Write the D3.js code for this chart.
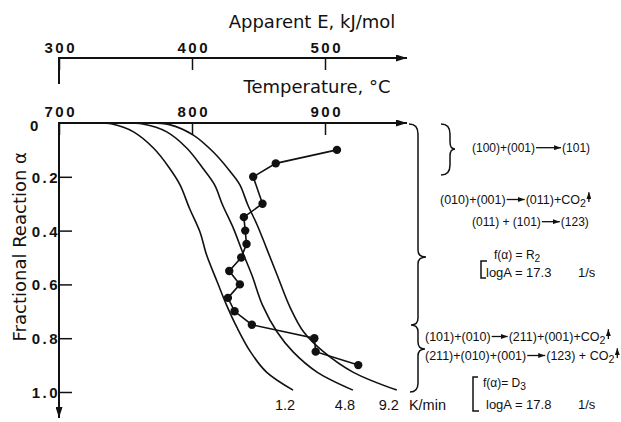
<!DOCTYPE html>
<html>
<head>
<meta charset="utf-8">
<script src="https://cdn.jsdelivr.net/npm/d3@7"></script>
<style>
  body { margin: 0; background: #fff; }
  svg { display: block; }
  .tick text { font-family: "Liberation Sans", Arial, sans-serif;
               font-weight: bold; font-size: 15px; letter-spacing: 2.5px; fill: #111; }
  .tick line { stroke: #111; stroke-width: 1.5; }
  .title { font-family: "DejaVu Sans", sans-serif; font-size: 18px; fill: #111; }
  .note text { font-family: "Liberation Sans", Arial, sans-serif; font-size: 12px; fill: #111; }
  .frame { stroke: #111; stroke-width: 2; fill: none; }
</style>
</head>
<body>
<svg id="chart" width="621" height="422"></svg>
<script>
// --- DATA ---
const eTicks = [300, 400, 500];
const tTicks = [700, 800, 900];
const alphaTicks = [0.2, 0.4, 0.6, 0.8, 1.0];

// conversion curves for each heating rate (temperature °C, fractional reaction)
const rates = ["1.2", "4.8", "9.2"];
const curve12T = [726, 740, 756, 771, 783, 791, 798, 806, 811, 819, 826, 834, 844, 856, 876];
const curve12A = [0, 0.004, 0.033, 0.093, 0.167, 0.23, 0.316, 0.405, 0.491, 0.591, 0.677, 0.762, 0.851, 0.926, 0.993];
const curve48T = [748, 763, 781, 796, 808, 817, 823, 831, 838, 845, 853, 864, 876, 894, 921];
const curve48A = [0, 0.004, 0.033, 0.093, 0.167, 0.23, 0.305, 0.39, 0.48, 0.565, 0.677, 0.777, 0.851, 0.926, 0.993];
const curve92T = [768, 783, 801, 816, 829, 836, 842, 849, 856, 864, 874, 884, 899, 921, 954];
const curve92A = [0, 0.006, 0.045, 0.108, 0.182, 0.23, 0.305, 0.379, 0.465, 0.565, 0.688, 0.777, 0.851, 0.926, 0.993];

// apparent activation energy vs alpha
const dotAlpha = [0.1, 0.15, 0.2, 0.3, 0.35, 0.4, 0.45, 0.5, 0.55, 0.6, 0.65, 0.7, 0.75, 0.8, 0.85, 0.9];
const dotE = [509, 463, 446, 453, 439, 440, 441, 437, 428, 436, 427, 432, 445, 492, 493, 525];

// --- SETUP ---
const svg = d3.select("#chart");
const axisEnd = 407;

const xE = d3.scaleLinear().domain([300, 500]).range([59, 325]);
const xT = d3.scaleLinear().domain([700, 900]).range([59, 325]);
const yA = d3.scaleLinear().domain([0, 1]).range([123, 392]);

const defs = svg.append("defs");
function addHead(id, len, wid) {
    defs.append("marker")
        .attr("id", id)
        .attr("markerUnits", "userSpaceOnUse")
        .attr("markerWidth", len).attr("markerHeight", wid)
        .attr("refX", len).attr("refY", wid / 2)
        .attr("orient", "auto")
        .append("path")
        .attr("d", `M0,0L${len},${wid / 2}L0,${wid}Z`)
        .attr("fill", "#111");
}
addHead("head", 11, 7);
addHead("small", 7, 5);

// --- AXES ---
const ls = 2.5; // letter spacing used on tick labels

const eAxis = svg.append("g")
    .attr("transform", `translate(0,${yA(0) - 65})`)
    .call(d3.axisTop(xE).tickValues(eTicks).tickSizeInner(-12).tickSizeOuter(0).tickPadding(5).tickFormat(d3.format("d")));
eAxis.select(".domain").remove();
eAxis.selectAll("text").attr("dx", ls / 2);
svg.append("line").attr("class", "frame")
    .attr("x1", xE(300)).attr("x2", axisEnd).attr("y1", yA(0) - 65).attr("y2", yA(0) - 65)
    .attr("marker-end", "url(#head)");
svg.append("line").attr("class", "frame")
    .attr("x1", xE(300)).attr("x2", xE(300)).attr("y1", yA(0) - 66).attr("y2", yA(0) - 39);

const tAxis = svg.append("g")
    .attr("transform", `translate(0,${yA(0)})`)
    .call(d3.axisTop(xT).tickValues(tTicks).tickSizeInner(-12).tickSizeOuter(0).tickPadding(6).tickFormat(d3.format("d")));
tAxis.select(".domain").remove();
tAxis.selectAll("text").attr("dx", ls / 2);
svg.append("line").attr("class", "frame")
    .attr("x1", xT(700)).attr("x2", axisEnd).attr("y1", yA(0)).attr("y2", yA(0))
    .attr("marker-end", "url(#head)");

const aAxis = svg.append("g")
    .attr("transform", `translate(${xT(700)},0)`)
    .call(d3.axisLeft(yA).tickValues(alphaTicks).tickSizeInner(-13).tickSizeOuter(0).tickFormat(d3.format(".1f")));
aAxis.select(".domain").remove();
aAxis.selectAll("text").attr("x", 1).attr("dy", "0.36em");
svg.append("line").attr("class", "frame")
    .attr("x1", xT(700)).attr("x2", xT(700)).attr("y1", yA(0) - 1).attr("y2", 418)
    .attr("marker-end", "url(#head)");
svg.append("g").attr("class", "tick").append("text")
    .attr("x", 30).attr("y", yA(0) + 8).text("0");

// titles
svg.append("text").attr("class", "title")
    .attr("x", 312).attr("y", 28).attr("text-anchor", "middle")
    .text("Apparent E, kJ/mol");
svg.append("text").attr("class", "title")
    .attr("x", 317).attr("y", 93).attr("text-anchor", "middle")
    .text("Temperature, °C");
svg.append("text").attr("class", "title")
    .attr("transform", `translate(26,${yA(0.46)}) rotate(-90)`)
    .attr("text-anchor", "middle")
    .text("Fractional Reaction α");

// --- CURVES ---
const curves = [
    d3.zip(curve12T, curve12A),
    d3.zip(curve48T, curve48A),
    d3.zip(curve92T, curve92A)
];
const curveLine = d3.line()
    .x(d => xT(d[0])).y(d => yA(d[1]))
    .curve(d3.curveCatmullRom.alpha(0.5));

svg.append("g").selectAll("path")
    .data(curves)
    .join("path")
    .attr("d", curveLine)
    .attr("fill", "none").attr("stroke", "#111").attr("stroke-width", 1.6);

const rateLabels = svg.append("g").attr("class", "note");
let lastEnd = 0;
curves.forEach((c, i) => {
    const end = c[c.length - 1];
    const t = rateLabels.append("text")
        .attr("x", xT(end[0]) - 8).attr("y", 410)
        .attr("text-anchor", "middle")
        .style("font-size", "14.5px")
        .text(rates[i]);
    const bb = t.node().getBBox();
    lastEnd = bb.x + bb.width;
});
rateLabels.append("text")
    .attr("x", lastEnd + 10).attr("y", 410)
    .style("font-size", "14.5px")
    .text("K/min");

// --- ACTIVATION ENERGY POINTS ---
const ePoints = d3.zip(dotE, dotAlpha);
svg.append("path")
    .datum(ePoints)
    .attr("d", d3.line().x(d => xE(d[0])).y(d => yA(d[1])))
    .attr("fill", "none").attr("stroke", "#111").attr("stroke-width", 1.6);
svg.append("g").selectAll("circle")
    .data(ePoints)
    .join("circle")
    .attr("cx", d => xE(d[0])).attr("cy", d => yA(d[1]))
    .attr("r", 4.2).attr("fill", "#111");

// --- REACTION NOTES ---
function eqRow(x, y, tokens, size) {
    const g = svg.append("g").attr("class", "note");
    const fs = size || 12;
    let cx = x;
    tokens.forEach(tok => {
        if (tok.arrow) {
            g.append("line")
                .attr("x1", cx + 1).attr("x2", cx + tok.arrow - 1)
                .attr("y1", y - fs * 0.36).attr("y2", y - fs * 0.36)
                .attr("stroke", "#111").attr("stroke-width", 1.3)
                .attr("marker-end", "url(#small)");
            cx += tok.arrow;
        } else if (tok.up) {
            g.append("line")
                .attr("x1", cx + 3).attr("x2", cx + 3)
                .attr("y1", y - 2).attr("y2", y - fs * 0.95)
                .attr("stroke", "#111").attr("stroke-width", 1.3)
                .attr("marker-end", "url(#small)");
            cx += 6;
        } else {
            const t = g.append("text")
                .attr("x", cx).attr("y", tok.sub ? y + 3 : y)
                .style("font-size", (tok.sub ? fs * 0.85 : fs) + "px")
                .text(tok.t || tok.sub);
            cx += t.node().getComputedTextLength();
        }
    });
}

eqRow(472, 152, [{t: "(100)+(001)"}, {arrow: 27}, {t: "(101)"}]);
eqRow(440, 204, [{t: "(010)+(001)"}, {arrow: 20}, {t: "(011)+CO"}, {sub: "2"}, {up: 1}], 12.5);
eqRow(472, 226, [{t: "(011) + (101)"}, {arrow: 20}, {t: "(123)"}]);
eqRow(494, 259, [{t: "f(α) = R"}, {sub: "2"}]);
eqRow(486, 277, [{t: "logA = 17.3"}], 13);
eqRow(578, 277, [{t: "1/s"}], 13);
eqRow(425, 341, [{t: "(101)+(010)"}, {arrow: 18}, {t: "(211)+(001)+CO"}, {sub: "2"}, {up: 1}], 12.5);
eqRow(425, 360, [{t: "(211)+(010)+(001)"}, {arrow: 20}, {t: "(123) + CO"}, {sub: "2"}, {up: 1}], 12.5);
eqRow(483, 387, [{t: "f(α)= D"}, {sub: "3"}]);
eqRow(486, 409, [{t: "logA = 17.8"}], 13);
eqRow(578, 409, [{t: "1/s"}], 13);

// braces and brackets
const brace = svg.append("g").attr("fill", "none").attr("stroke", "#111").attr("stroke-width", 1.5);
brace.append("path").attr("d",
    "M409,124 Q418,124 418,134 L418,250 Q418,257 426,257 Q418,257 418,264 L418,318 " +
    "Q418,325 411,325 Q418,325 418,332 L418,342 Q418,349 425,349 Q418,349 418,356 L418,383 Q418,392 410,392");
brace.append("path").attr("d",
    "M441,124 Q450,124 450,134 L450,142 Q450,149 455,149 Q450,149 450,156 L450,165 Q450,175 441,175");
brace.append("path").attr("d", "M487,261 L481,261 L481,278 L486,278");
brace.append("path").attr("d", "M478,377 L473,377 L473,411 L479,411");
</script>
</body>
</html>
